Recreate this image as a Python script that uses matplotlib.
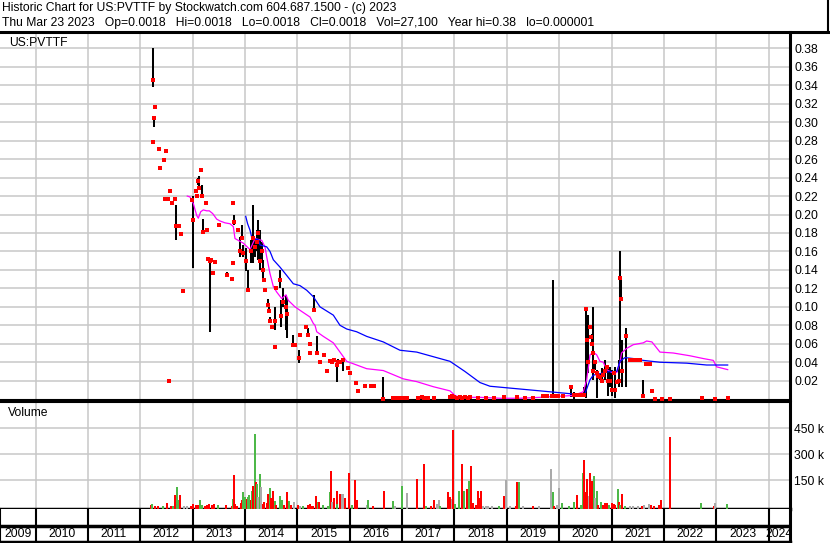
import matplotlib
matplotlib.use('Agg')
import matplotlib.pyplot as plt
from matplotlib.lines import Line2D

plt.rcParams['font.family'] = ['Liberation Sans', 'DejaVu Sans']

# ---------------- data ----------------
# price observations: date (decimal year), high, low, close
p_date = [2012.237, 2012.25, 2012.268, 2012.275, 2012.359, 2012.372, 2012.448, 2012.473, 2012.486,
          2012.525, 2012.544, 2012.563, 2012.601, 2012.658, 2012.689, 2012.740, 2012.773, 2012.817,
          2012.980, 2012.999, 2013.059, 2013.078, 2013.100, 2013.120, 2013.154, 2013.179, 2013.204,
          2013.256, 2013.269, 2013.290, 2013.332, 2013.360, 2013.395, 2013.420, 2013.498, 2013.651,
          2013.746, 2013.765, 2013.780, 2013.790, 2013.861, 2013.905, 2013.937, 2013.968, 2014.014,
          2014.063, 2014.109, 2014.159, 2014.191, 2014.224, 2014.254, 2014.287, 2014.319, 2014.350,
          2014.363, 2014.382, 2014.445, 2014.458, 2014.478, 2014.510, 2014.573, 2014.580, 2014.600,
          2014.669, 2014.688, 2014.720, 2014.783, 2014.808, 2014.911, 2014.950, 2015.026, 2015.050,
          2015.165, 2015.200, 2015.241, 2015.250, 2015.318, 2015.370, 2015.432, 2015.509, 2015.560,
          2015.623, 2015.660, 2015.700, 2015.750, 2015.780, 2015.820, 2015.877, 2015.973, 2016.005,
          2016.120, 2016.164, 2016.300, 2016.400, 2016.460, 2016.641, 2016.830, 2016.870, 2016.920,
          2016.960, 2017.020, 2017.100, 2017.300, 2017.380, 2017.420, 2017.500, 2017.600, 2017.920,
          2017.960, 2018.000, 2018.050, 2018.100, 2018.150, 2018.200, 2018.250, 2018.300, 2018.450,
          2018.600, 2018.750, 2018.950, 2019.200, 2019.350, 2019.500, 2019.700, 2019.760, 2019.856,
          2019.887, 2019.920, 2019.980, 2020.066, 2020.219, 2020.289, 2020.330, 2020.384, 2020.461,
          2020.480, 2020.505, 2020.537, 2020.556, 2020.588, 2020.601, 2020.620, 2020.639, 2020.652,
          2020.684, 2020.728, 2020.747, 2020.780, 2020.811, 2020.843, 2020.875, 2020.906, 2020.938,
          2020.970, 2021.002, 2021.046, 2021.066, 2021.110, 2021.142, 2021.161, 2021.180, 2021.206,
          2021.276, 2021.352, 2021.416, 2021.479, 2021.543, 2021.607, 2021.657, 2021.734, 2021.766,
          2021.830, 2021.957, 2022.116, 2022.720, 2022.975, 2023.217]
p_high = [0.279, 0.380, 0.305, 0.317, 0.271, 0.250, 0.259, 0.217, 0.269,
          0.217, 0.020, 0.225, 0.212, 0.217, 0.210, 0.188, 0.179, 0.117,
          0.216, 0.220, 0.225, 0.220, 0.240, 0.242, 0.250, 0.232, 0.195,
          0.213, 0.183, 0.152, 0.152, 0.151, 0.137, 0.149, 0.189, 0.138,
          0.130, 0.147, 0.213, 0.200, 0.183, 0.176, 0.189, 0.167, 0.164,
          0.140, 0.172, 0.210, 0.172, 0.183, 0.194, 0.183, 0.170, 0.151,
          0.129, 0.118, 0.109, 0.100, 0.089, 0.0785, 0.100, 0.057, 0.120,
          0.140, 0.107, 0.120, 0.113, 0.109, 0.070, 0.059, 0.053, 0.069,
          0.0785, 0.077, 0.0595, 0.050, 0.113, 0.068, 0.040, 0.048, 0.031,
          0.041, 0.040, 0.042, 0.037, 0.044, 0.040, 0.042, 0.034, 0.028,
          0.017, 0.009, 0.0145, 0.0145, 0.0145, 0.024, 0.001, 0.001, 0.001,
          0.001, 0.001, 0.003, 0.001, 0.002, 0.001, 0.001, 0.001, 0.002,
          0.003, 0.002, 0.001, 0.002, 0.001, 0.002, 0.001, 0.002, 0.001,
          0.001, 0.001, 0.002, 0.002, 0.001, 0.001, 0.003, 0.003, 0.003,
          0.129, 0.003, 0.003, 0.003, 0.0135, 0.008, 0.005, 0.005, 0.005,
          0.0135, 0.098, 0.066, 0.091, 0.0785, 0.067, 0.071, 0.100, 0.040,
          0.040, 0.032, 0.025, 0.027, 0.034, 0.026, 0.042, 0.035, 0.037,
          0.035, 0.032, 0.028, 0.035, 0.019, 0.042, 0.160, 0.131, 0.064,
          0.077, 0.042, 0.042, 0.042, 0.042, 0.021, 0.038, 0.038, 0.009,
          0.000, 0.000, 0.000, 0.001, 0.000, 0.001]
p_low = [0.279, 0.338, 0.295, 0.317, 0.271, 0.250, 0.259, 0.217, 0.269,
         0.217, 0.020, 0.225, 0.212, 0.217, 0.172, 0.188, 0.179, 0.117,
         0.216, 0.142, 0.225, 0.220, 0.232, 0.229, 0.248, 0.220, 0.180,
         0.213, 0.183, 0.152, 0.073, 0.151, 0.137, 0.149, 0.189, 0.135,
         0.130, 0.147, 0.213, 0.189, 0.183, 0.154, 0.172, 0.154, 0.139,
         0.118, 0.147, 0.147, 0.154, 0.161, 0.151, 0.140, 0.151, 0.129,
         0.129, 0.118, 0.102, 0.093, 0.082, 0.0785, 0.075, 0.057, 0.120,
         0.120, 0.078, 0.100, 0.075, 0.066, 0.059, 0.059, 0.039, 0.069,
         0.0785, 0.070, 0.0595, 0.050, 0.097, 0.048, 0.040, 0.048, 0.031,
         0.041, 0.040, 0.042, 0.019, 0.035, 0.040, 0.030, 0.034, 0.028,
         0.017, 0.009, 0.0145, 0.0145, 0.0145, 0.000, 0.001, 0.001, 0.001,
         0.001, 0.001, 0.000, 0.001, 0.002, 0.001, 0.001, 0.001, 0.002,
         0.003, 0.002, 0.001, 0.002, 0.001, 0.002, 0.001, 0.002, 0.001,
         0.001, 0.001, 0.002, 0.002, 0.001, 0.001, 0.003, 0.003, 0.003,
         0.003, 0.003, 0.003, 0.003, 0.002, 0.000, 0.005, 0.005, 0.005,
         0.002, 0.001, 0.064, 0.028, 0.0785, 0.067, 0.058, 0.021, 0.027,
         0.032, 0.001, 0.025, 0.021, 0.018, 0.026, 0.021, 0.035, 0.003,
         0.013, 0.003, 0.028, 0.001, 0.019, 0.0135, 0.039, 0.109, 0.0135,
         0.0135, 0.042, 0.042, 0.042, 0.042, 0.003, 0.038, 0.038, 0.009,
         0.000, 0.000, 0.000, 0.001, 0.000, 0.001]
p_close = [0.279, 0.346, 0.305, 0.317, 0.271, 0.250, 0.259, 0.217, 0.269,
           0.217, 0.020, 0.225, 0.212, 0.217, 0.188, 0.188, 0.179, 0.117,
           0.216, 0.194, 0.225, 0.220, 0.236, 0.229, 0.248, 0.220, 0.181,
           0.213, 0.183, 0.152, 0.150, 0.151, 0.137, 0.149, 0.189, 0.135,
           0.130, 0.147, 0.213, 0.192, 0.183, 0.160, 0.175, 0.158, 0.150,
           0.118, 0.160, 0.175, 0.165, 0.170, 0.180, 0.150, 0.160, 0.140,
           0.129, 0.118, 0.102, 0.095, 0.085, 0.0785, 0.085, 0.057, 0.120,
           0.129, 0.090, 0.105, 0.100, 0.092, 0.059, 0.059, 0.045, 0.069,
           0.0785, 0.070, 0.0595, 0.050, 0.097, 0.050, 0.040, 0.048, 0.031,
           0.041, 0.040, 0.042, 0.037, 0.040, 0.040, 0.042, 0.034, 0.028,
           0.017, 0.009, 0.0145, 0.0145, 0.0145, 0.000, 0.001, 0.001, 0.001,
           0.001, 0.001, 0.001, 0.001, 0.002, 0.001, 0.001, 0.001, 0.002,
           0.003, 0.002, 0.001, 0.002, 0.001, 0.002, 0.001, 0.002, 0.001,
           0.001, 0.001, 0.002, 0.002, 0.001, 0.001, 0.003, 0.003, 0.003,
           0.003, 0.003, 0.003, 0.003, 0.0135, 0.004, 0.005, 0.005, 0.005,
           0.005, 0.098, 0.064, 0.040, 0.0785, 0.067, 0.060, 0.050, 0.030,
           0.040, 0.028, 0.025, 0.024, 0.020, 0.026, 0.030, 0.035, 0.020,
           0.020, 0.010, 0.028, 0.010, 0.019, 0.020, 0.131, 0.109, 0.030,
           0.068, 0.042, 0.042, 0.042, 0.042, 0.003, 0.038, 0.038, 0.009,
           0.000, 0.000, 0.000, 0.001, 0.000, 0.001]

# short moving average (magenta)
ma_s_date = [2012.898, 2012.950, 2013.013, 2013.078, 2013.109, 2013.154, 2013.204, 2013.269, 2013.319,
             2013.384, 2013.460, 2013.523, 2013.618, 2013.714, 2013.777, 2013.809, 2013.872, 2013.968,
             2014.096, 2014.191, 2014.319, 2014.382, 2014.415, 2014.478, 2014.541, 2014.606, 2014.701,
             2014.783, 2014.827, 2014.955, 2015.083, 2015.241, 2015.305, 2015.337, 2015.370, 2015.496,
             2015.687, 2015.814, 2015.942, 2016.133, 2016.324, 2016.641, 2017.023, 2017.279, 2017.596,
             2017.914, 2018.010, 2018.105, 2018.487, 2018.869, 2019.251, 2019.633, 2020.270, 2020.460,
             2020.525, 2020.588, 2020.651, 2020.716, 2020.778, 2020.842, 2020.907, 2021.034, 2021.100,
             2021.160, 2021.190, 2021.288, 2021.414, 2021.605, 2021.669, 2021.770, 2021.924, 2022.178,
             2022.497, 2022.751, 2022.942, 2023.007, 2023.217]
ma_s_val = [0.220, 0.219, 0.212, 0.199, 0.196, 0.203, 0.205, 0.204, 0.204,
            0.201, 0.195, 0.193, 0.191, 0.190, 0.187, 0.174, 0.172, 0.169,
            0.162, 0.174, 0.172, 0.165, 0.154, 0.136, 0.122, 0.116, 0.109,
            0.113, 0.107, 0.100, 0.095, 0.089, 0.082, 0.080, 0.073, 0.068,
            0.061, 0.051, 0.041, 0.037, 0.033, 0.031, 0.022, 0.019, 0.0135,
            0.009, 0.004, 0.002, 0.002, 0.001, 0.001, 0.002, 0.004, 0.008,
            0.021, 0.048, 0.051, 0.048, 0.041, 0.040, 0.032, 0.028, 0.029,
            0.040, 0.050, 0.055, 0.059, 0.061, 0.063, 0.062, 0.051, 0.050,
            0.047, 0.044, 0.042, 0.035, 0.032]

# long moving average (blue)
ma_l_date = [2014.014, 2014.050, 2014.096, 2014.130, 2014.150, 2014.191, 2014.250, 2014.287, 2014.415,
             2014.478, 2014.541, 2014.669, 2014.797, 2014.923, 2015.050, 2015.178, 2015.305, 2015.432,
             2015.560, 2015.687, 2015.814, 2015.942, 2016.133, 2016.324, 2016.641, 2016.959, 2017.279,
             2017.596, 2017.914, 2018.200, 2018.487, 2018.678, 2019.060, 2019.633, 2020.270, 2020.493,
             2020.588, 2020.651, 2020.811, 2020.969, 2021.100, 2021.160, 2021.255, 2021.414, 2021.605,
             2021.924, 2022.434, 2022.816, 2023.217]
ma_l_val = [0.198, 0.190, 0.183, 0.175, 0.176, 0.173, 0.173, 0.167, 0.165,
            0.160, 0.151, 0.143, 0.134, 0.125, 0.123, 0.118, 0.111, 0.100,
            0.0955, 0.091, 0.080, 0.076, 0.073, 0.068, 0.062, 0.053, 0.051,
            0.046, 0.041, 0.030, 0.018, 0.014, 0.012, 0.009, 0.0056, 0.006,
            0.021, 0.026, 0.028, 0.030, 0.030, 0.041, 0.045, 0.044, 0.042,
            0.040, 0.039, 0.037, 0.037]

# volume: date, shares, colour code (r = down, g = up, k = unchanged)
v_date = [2012.205, 2012.218, 2012.282, 2012.345, 2012.441, 2012.505, 2012.581, 2012.632, 2012.664,
          2012.696, 2012.715, 2012.753, 2012.836, 2012.887, 2012.963, 2013.001, 2013.065, 2013.109,
          2013.141, 2013.173, 2013.237, 2013.281, 2013.319, 2013.364, 2013.408, 2013.478, 2013.631,
          2013.746, 2013.765, 2013.784, 2013.810, 2013.854, 2013.918, 2013.937, 2013.969, 2014.000,
          2014.032, 2014.051, 2014.083, 2014.109, 2014.140, 2014.160, 2014.185, 2014.204, 2014.223,
          2014.255, 2014.287, 2014.306, 2014.338, 2014.363, 2014.414, 2014.433, 2014.471, 2014.497,
          2014.541, 2014.567, 2014.592, 2014.669, 2014.700, 2014.745, 2014.796, 2014.847, 2014.885,
          2014.936, 2015.006, 2015.051, 2015.101, 2015.210, 2015.242, 2015.273, 2015.305, 2015.350,
          2015.400, 2015.420, 2015.496, 2015.592, 2015.625, 2015.643, 2015.662, 2015.706, 2015.751,
          2015.764, 2015.814, 2015.846, 2015.865, 2015.910, 2015.980, 2016.037, 2016.094, 2016.145,
          2016.324, 2016.343, 2016.451, 2016.661, 2016.820, 2016.858, 2016.992, 2017.088, 2017.278,
          2017.418, 2017.457, 2017.546, 2017.609, 2017.673, 2017.705, 2017.724, 2017.883, 2017.915,
          2017.960, 2017.979, 2018.010, 2018.087, 2018.138, 2018.176, 2018.233, 2018.271, 2018.310,
          2018.348, 2018.411, 2018.450, 2018.475, 2018.500, 2018.539, 2018.602, 2018.647, 2018.710,
          2018.844, 2018.952, 2018.978, 2019.060, 2019.175, 2019.200, 2019.226, 2019.302, 2019.493,
          2019.608, 2019.837, 2019.875, 2019.894, 2019.952, 2019.990, 2020.047, 2020.194, 2020.283,
          2020.346, 2020.423, 2020.448, 2020.474, 2020.493, 2020.512, 2020.537, 2020.563, 2020.588,
          2020.620, 2020.658, 2020.684, 2020.715, 2020.747, 2020.792, 2020.830, 2020.875, 2020.920,
          2020.951, 2021.002, 2021.046, 2021.066, 2021.123, 2021.136, 2021.161, 2021.200, 2021.256,
          2021.352, 2021.416, 2021.511, 2021.587, 2021.619, 2021.708, 2021.747, 2021.810, 2021.900,
          2021.938, 2022.116, 2022.701, 2022.956, 2022.975, 2023.198]
v_vol = [8000, 13000, 3000, 3000, 3000, 19000, 3000, 3000, 65000,
         111000, 36000, 65000, 3000, 3000, 3000, 13000, 5000, 5000,
         36000, 8000, 4000, 8000, 13000, 5000, 13000, 5000, 5000,
         4000, 42000, 181000, 13000, 3000, 19000, 36000, 81000, 54000,
         42000, 54000, 65000, 36000, 88000, 117000, 417000, 140000, 129000,
         54000, 187000, 111000, 13000, 25000, 21000, 71000, 106000, 48000,
         88000, 31000, 8000, 60000, 36000, 5000, 81000, 31000, 8000,
         25000, 8000, 3000, 4000, 8000, 13000, 4000, 4000, 60000,
         25000, 25000, 5000, 4000, 81000, 204000, 25000, 48000, 88000,
         13000, 71000, 71000, 71000, 48000, 192000, 8000, 152000, 36000,
         8000, 36000, 3000, 88000, 31000, 3000, 117000, 77000, 158000,
         244000, 3000, 4000, 36000, 13000, 36000, 4000, 81000, 54000,
         40000, 440000, 13000, 88000, 242000, 88000, 100000, 146000, 233000,
         19000, 8000, 88000, 48000, 88000, 4000, 3000, 3000, 3000,
         3000, 60000, 150000, 3000, 4000, 140000, 140000, 3000, 4000,
         4000, 215000, 81000, 4000, 5000, 106000, 19000, 4000, 25000,
         65000, 5000, 192000, 267000, 81000, 25000, 158000, 60000, 192000,
         146000, 175000, 48000, 88000, 8000, 25000, 5000, 19000, 19000,
         5000, 19000, 13000, 8000, 100000, 25000, 8000, 71000, 4000,
         3000, 4000, 3000, 3000, 8000, 13000, 8000, 4000, 5000,
         36000, 400000, 19000, 4000, 19000, 13000]
v_col = ['r', 'g', 'r', 'r', 'g', 'r', 'r', 'g', 'r',
         'g', 'g', 'r', 'k', 'k', 'r', 'r', 'r', 'r',
         'g', 'g', 'r', 'r', 'r', 'r', 'r', 'g', 'r',
         'r', 'g', 'r', 'r', 'r', 'r', 'r', 'g', 'g',
         'r', 'g', 'g', 'r', 'g', 'r', 'g', 'r', 'g',
         'k', 'g', 'k', 'r', 'r', 'r', 'r', 'g', 'r',
         'r', 'g', 'r', 'g', 'g', 'r', 'r', 'g', 'r',
         'k', 'r', 'k', 'g', 'r', 'r', 'r', 'r', 'r',
         'g', 'r', 'g', 'g', 'g', 'r', 'k', 'r', 'r',
         'g', 'r', 'k', 'k', 'r', 'r', 'g', 'r', 'r',
         'k', 'g', 'r', 'r', 'g', 'k', 'g', 'k', 'r',
         'r', 'g', 'r', 'r', 'k', 'k', 'g', 'r', 'r',
         'k', 'r', 'g', 'g', 'r', 'g', 'r', 'g', 'r',
         'r', 'r', 'r', 'r', 'r', 'k', 'k', 'k', 'k',
         'g', 'r', 'k', 'k', 'r', 'r', 'g', 'k', 'r',
         'k', 'k', 'g', 'r', 'k', 'k', 'g', 'g', 'g',
         'r', 'g', 'g', 'r', 'r', 'r', 'r', 'k', 'r',
         'r', 'g', 'k', 'g', 'r', 'g', 'r', 'r', 'r',
         'g', 'r', 'r', 'r', 'g', 'r', 'g', 'r', 'g',
         'k', 'k', 'k', 'r', 'k', 'k', 'r', 'r', 'r',
         'r', 'r', 'g', 'r', 'k', 'g']

years = list(range(2009, 2025))
price_ticks = [0.02, 0.04, 0.06, 0.08, 0.10, 0.12, 0.14, 0.16, 0.18, 0.20,
               0.22, 0.24, 0.26, 0.28, 0.30, 0.32, 0.34, 0.36, 0.38]
vol_ticks = [150000, 300000, 450000]
vol_labels = ['150 k', '300 k', '450 k']

header1 = 'Historic Chart for US:PVTTF by Stockwatch.com 604.687.1500 - (c) 2023'
header2 = ('Thu Mar 23 2023   Op=0.0018   Hi=0.0018   Lo=0.0018   Cl=0.0018   '
           'Vol=27,100   Year hi=0.38   lo=0.000001')
symbol = 'US:PVTTF'

# ---------------- layout ----------------
W, H = 830, 543
fig = plt.figure(figsize=(W / 100, H / 100), dpi=100)
fig.patch.set_facecolor('white')


def rect(x0, y0, x1, y1):
    return [x0 / W, 1 - y1 / H, (x1 - x0) / W, (y1 - y0) / H]


X0, X1 = 2009.322, 2024.407
GRID = '#c8c8c8'
FS = 8.7
vcolors = {'r': '#ff0000', 'g': '#4db848', 'k': '#aaaaaa'}

# header
fig.text(2 / W, 1 - 8 / H, header1, fontsize=FS, va='center', ha='left')
fig.text(2 / W, 1 - 23 / H, header2, fontsize=FS, va='center', ha='left')
fig.add_artist(Line2D([0, 828 / W], [1 - 31.5 / H] * 2, color='black', lw=2.2))
fig.add_artist(Line2D([828 / W] * 2, [1 - 31.5 / H, 1], color='black', lw=1.5))

# price panel
ax = fig.add_axes(rect(0, 32, 790, 400))
ax.set_xlim(X0, X1)
ax.set_ylim(-0.0009, 0.3977)
ax.set_xticks(years[1:])
ax.set_yticks(price_ticks)
ax.yaxis.tick_right()
ax.set_yticklabels(['%.2f' % t for t in price_ticks])
ax.tick_params(axis='x', length=0, labelbottom=False)
ax.tick_params(axis='y', length=0, pad=3.5, labelsize=FS)
ax.grid(True, color=GRID, lw=1.1)
ax.set_axisbelow(True)
for s in ['left', 'top']:
    ax.spines[s].set_visible(False)
ax.spines['right'].set_linewidth(2.2)
ax.spines['bottom'].set_linewidth(1.5)

ax.vlines(p_date, p_low, p_high, color='black', lw=1.45, zorder=3)
ax.plot(ma_s_date, ma_s_val, color='#ff00ff', lw=0.9, zorder=4)
ax.plot(ma_l_date, ma_l_val, color='#0000ff', lw=0.9, zorder=4)
ax.plot(p_date, p_close, 's', color='#ff0000', ms=2.3, mew=0, zorder=5)
ax.text(9 / 790, 1 - 11 / 368, symbol, transform=ax.transAxes, fontsize=FS,
        va='center', ha='left')

# volume panel
av = fig.add_axes(rect(0, 402, 790, 509))
av.set_xlim(X0, X1)
av.set_ylim(-15600, 601700)
av.set_xticks(years[1:])
av.set_yticks(vol_ticks)
av.yaxis.tick_right()
av.set_yticklabels(vol_labels)
av.tick_params(axis='x', length=0, labelbottom=False)
av.tick_params(axis='y', length=0, pad=3, labelsize=FS)
av.grid(True, color=GRID, lw=1.1)
av.set_axisbelow(True)
av.spines['left'].set_visible(False)
av.spines['top'].set_linewidth(1.5)
av.spines['right'].set_linewidth(2.2)
av.spines['bottom'].set_linewidth(2.5)
vb = av.get_ylim()[0]
av.bar(v_date, [v - vb for v in v_vol], bottom=vb, width=0.036,
       color=[vcolors[c] for c in v_col], linewidth=0, zorder=3)
av.text(8 / 790, 1 - 11 / 107, 'Volume', transform=av.transAxes, fontsize=FS,
        va='center', ha='left')

# year strip
ay = fig.add_axes(rect(0, 509, 790, 542))
ay.set_xlim(X0, X1)
ay.set_ylim(0, 1)
ay.set_xticks([])
ay.set_yticks([])
ay.spines['left'].set_linewidth(1.5)
ay.spines['top'].set_visible(False)
ay.spines['right'].set_linewidth(2.2)
ay.spines['bottom'].set_linewidth(2.5)
ay.vlines(years[1:], 0, 1, color='black', lw=1.5)
ay.axhline(0.5, color='black', lw=2.5)
for y in years:
    lo = max(y, X0)
    hi = min(y + 1, X1)
    ay.text((lo + hi) / 2, 0.24, str(y), ha='center', va='center', fontsize=FS)

fig.savefig('out.png', dpi=100, facecolor='white')
